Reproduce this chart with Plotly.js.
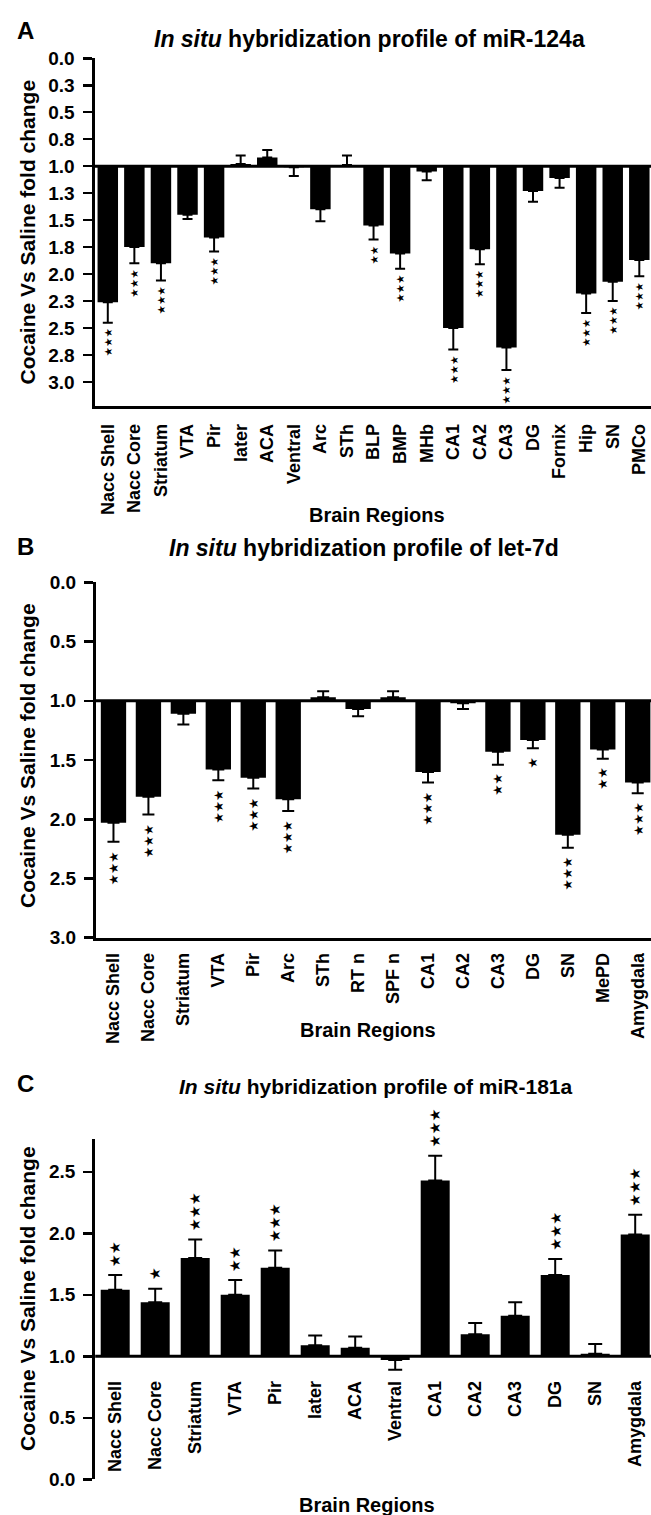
<!DOCTYPE html>
<html><head><meta charset="utf-8">
<script src="https://cdn.plot.ly/plotly-3.0.1.min.js"></script>
<style>html,body{margin:0;padding:0;background:#fff}#chart{width:651px;height:1515px}</style>
</head><body><div id="chart"></div>
<script>
// ---------- Panel A: miR-124a ----------
const regionsA = ["Nacc Shell","Nacc Core","Striatum","VTA","Pir","later","ACA","Ventral","Arc","STh","BLP","BMP","MHb","CA1","CA2","CA3","DG","Fornix","Hip","SN","PMCo"];
const foldA = [2.26,1.75,1.90,1.45,1.66,0.98,0.92,1.01,1.40,0.99,1.55,1.81,1.05,2.50,1.77,2.68,1.23,1.11,2.18,2.07,1.87];
const semA  = [0.19,0.15,0.16,0.04,0.13,0.08,0.07,0.08,0.11,0.09,0.13,0.14,0.08,0.20,0.14,0.21,0.10,0.09,0.18,0.18,0.15];
const starsA = [3,3,3,0,3,0,0,0,0,0,2,3,0,3,3,3,0,0,3,3,3];
const yTickValsA = [0,0.25,0.5,0.75,1,1.25,1.5,1.75,2,2.25,2.5,2.75,3];
const yTickTextA = ["0.0","0.3","0.5","0.8","1.0","1.3","1.5","1.8","2.0","2.3","2.5","2.8","3.0"];

// ---------- Panel B: let-7d ----------
const regionsB = ["Nacc Shell","Nacc Core","Striatum","VTA","Pir","Arc","STh","RT n","SPF n","CA1","CA2","CA3","DG","SN","MePD","Amygdala"];
const foldB = [2.03,1.81,1.11,1.58,1.65,1.83,0.97,1.07,0.97,1.60,1.02,1.43,1.33,2.13,1.41,1.69];
const semB  = [0.16,0.15,0.09,0.09,0.09,0.10,0.05,0.06,0.05,0.09,0.05,0.11,0.07,0.11,0.08,0.09];
const starsB = [3,3,0,3,3,3,0,0,0,3,0,2,1,3,2,3];
const yTickValsB = [0,0.5,1,1.5,2,2.5,3];
const yTickTextB = ["0.0","0.5","1.0","1.5","2.0","2.5","3.0"];

// ---------- Panel C: miR-181a ----------
const regionsC = ["Nacc Shell","Nacc Core","Striatum","VTA","Pir","later","ACA","Ventral","CA1","CA2","CA3","DG","SN","Amygdala"];
const foldC = [1.54,1.44,1.80,1.50,1.72,1.09,1.07,0.97,2.43,1.18,1.33,1.66,1.02,1.99];
const semC  = [0.12,0.11,0.15,0.12,0.14,0.08,0.09,0.08,0.20,0.09,0.11,0.13,0.08,0.16];
const starsC = [2,1,3,2,3,0,0,0,3,0,0,3,0,3];
const yTickValsC = [0,0.5,1,1.5,2,2.5];
const yTickTextC = ["0.0","0.5","1.0","1.5","2.0","2.5"];

const titleA = "<i>In situ</i> hybridization profile of miR-124a";
const titleB = "<i>In situ</i> hybridization profile of let-7d";
const titleC = "<i>In situ</i> hybridization profile of miR-181a";
const yTitle = "Cocaine Vs Saline fold change";
const xTitle = "Brain Regions";
const starGlyph = "\u2605";

// ---------- layout geometry (pixels) ----------
const W = 651, H = 1515;
const FONT = "Liberation Sans, Arial, Helvetica, sans-serif";
const px = v => v / W;
const py = v => 1 - v / H;

const geo = {
  A: {left: 94.5, top: 58.3, bottom: 405.7, yr: [3.22, 0], xr: [-0.5, 20.44], bw: 0.77, cap: 5, starSize: 10.5, starGap: 5},
  B: {left: 96, top: 582.4, bottom: 937.7, yr: [3, 0], xr: [-0.5, 15.38], bw: 0.725, cap: 6, starSize: 12.5, starGap: 8},
  C: {left: 95.2, top: 1139.3, bottom: 1479.3, yr: [0, 2.764], xr: [-0.5, 13.395], bw: 0.725, cap: 7, starSize: 14.5, starGap: 7}
};

function barTrace(cats, fold, sem, xa, ya, g) {
  return {
    type: 'bar', x: cats, y: fold.map(v => v - 1), base: 1,
    xaxis: xa, yaxis: ya, width: g.bw,
    marker: {color: '#000', line: {width: 0}},
    error_y: {
      type: 'data', symmetric: false,
      array: fold.map((v, i) => v >= 1 ? sem[i] : 0),
      arrayminus: fold.map((v, i) => v < 1 ? sem[i] : 0),
      color: '#000', thickness: 2, width: g.cap
    },
    hoverinfo: 'skip', showlegend: false
  };
}

const data = [
  barTrace(regionsA, foldA, semA, 'x', 'y', geo.A),
  barTrace(regionsB, foldB, semB, 'x2', 'y2', geo.B),
  barTrace(regionsC, foldC, semC, 'x3', 'y3', geo.C)
];

function xAxis(g, anchor, extra) {
  return Object.assign({
    domain: [px(g.left), 1], anchor: anchor, range: g.xr, type: 'category',
    tickangle: -90, ticks: '', showline: true, linewidth: 3, linecolor: '#000',
    showgrid: false, zeroline: false, automargin: false, fixedrange: true,
    tickfont: {family: FONT, size: 18, color: '#000', weight: 700}
  }, extra || {});
}
function yAxis(g, anchor, vals, text) {
  return {
    domain: [py(g.bottom), py(g.top)], anchor: anchor, range: g.yr,
    tickmode: 'array', tickvals: vals, ticktext: text,
    ticks: 'outside', ticklen: 9, tickwidth: 2.5, tickcolor: '#000',
    showline: true, linewidth: 3, linecolor: '#000',
    showgrid: false, zeroline: false, automargin: false, fixedrange: true,
    ticklabelstandoff: 4,
    tickfont: {family: FONT, size: 19, color: '#000', weight: 700}
  };
}

// position of the C category axis: at fold change 1.0
const gC = geo.C;
const posC = py(gC.bottom) + (1 - gC.yr[0]) / (gC.yr[1] - gC.yr[0]) * (py(gC.top) - py(gC.bottom));

const layout = {
  width: W, height: H, margin: {l: 0, r: 0, t: 0, b: 0, pad: 0},
  paper_bgcolor: '#fff', plot_bgcolor: 'rgba(0,0,0,0)',
  showlegend: false,
  xaxis: xAxis(geo.A, 'y', {ticklabelstandoff: 8}),
  yaxis: yAxis(geo.A, 'x', yTickValsA, yTickTextA),
  xaxis2: xAxis(geo.B, 'y2', {ticklabelstandoff: 5}),
  yaxis2: yAxis(geo.B, 'x2', yTickValsB, yTickTextB),
  xaxis3: xAxis(geo.C, 'free', {position: posC, showline: false, ticklabelstandoff: 20}),
  yaxis3: yAxis(geo.C, 'x3', yTickValsC, yTickTextC),
  shapes: [
    {type: 'line', xref: 'x domain', yref: 'y', x0: 0, x1: 1, y0: 1, y1: 1, line: {color: '#000', width: 3}},
    {type: 'line', xref: 'x2 domain', yref: 'y2', x0: 0, x1: 1, y0: 1, y1: 1, line: {color: '#000', width: 3}},
    {type: 'line', xref: 'x3 domain', yref: 'y3', x0: 0, x1: 1, y0: 1, y1: 1, line: {color: '#000', width: 3}}
  ],
  annotations: []
};

function paperText(text, x, y, size, angle) {
  return {xref: 'paper', yref: 'paper', x: px(x), y: py(y), text: text, showarrow: false,
    xanchor: 'center', yanchor: 'middle', textangle: angle || 0,
    font: {family: FONT, size: size, color: '#000', weight: 700}};
}
const ann = layout.annotations;
ann.push(paperText('A', 25, 31, 24));
ann.push(paperText('B', 25, 547, 24));
ann.push(paperText('C', 25, 1083, 24));
ann.push(paperText(titleA, 369.5, 39, 23));
ann.push(paperText(titleB, 363.5, 548, 23));
ann.push(paperText(titleC, 375.8, 1086, 21));
ann.push(paperText(yTitle, 27, 232.5, 21, -90));
ann.push(paperText(yTitle, 27, 756, 21, -90));
ann.push(paperText(yTitle, 27, 1299, 21, -90));
ann.push(paperText(xTitle, 377, 515, 20));
ann.push(paperText(xTitle, 368, 1030, 20));
ann.push(paperText(xTitle, 366.5, 1505, 20));

// significance stars: a vertical column of star glyphs just beyond each error bar
function starAnn(cats, fold, sem, stars, xr, yr, g, up) {
  cats.forEach((c, i) => {
    if (!stars[i]) return;
    ann.push({
      xref: xr, yref: yr, x: c, y: fold[i] + sem[i], text: starGlyph.repeat(stars[i]),
      showarrow: false, textangle: -90,
      xanchor: 'center', yanchor: up ? 'bottom' : 'top', borderpad: 0,
      yshift: up ? g.starGap : -g.starGap,
      font: {family: "DejaVu Sans", size: g.starSize, color: '#000'}
    });
  });
}
starAnn(regionsA, foldA, semA, starsA, 'x', 'y', geo.A, false);
starAnn(regionsB, foldB, semB, starsB, 'x2', 'y2', geo.B, false);
starAnn(regionsC, foldC, semC, starsC, 'x3', 'y3', geo.C, true);

Plotly.newPlot('chart', data, layout, {staticPlot: true, displayModeBar: false});
</script>
</body></html>
